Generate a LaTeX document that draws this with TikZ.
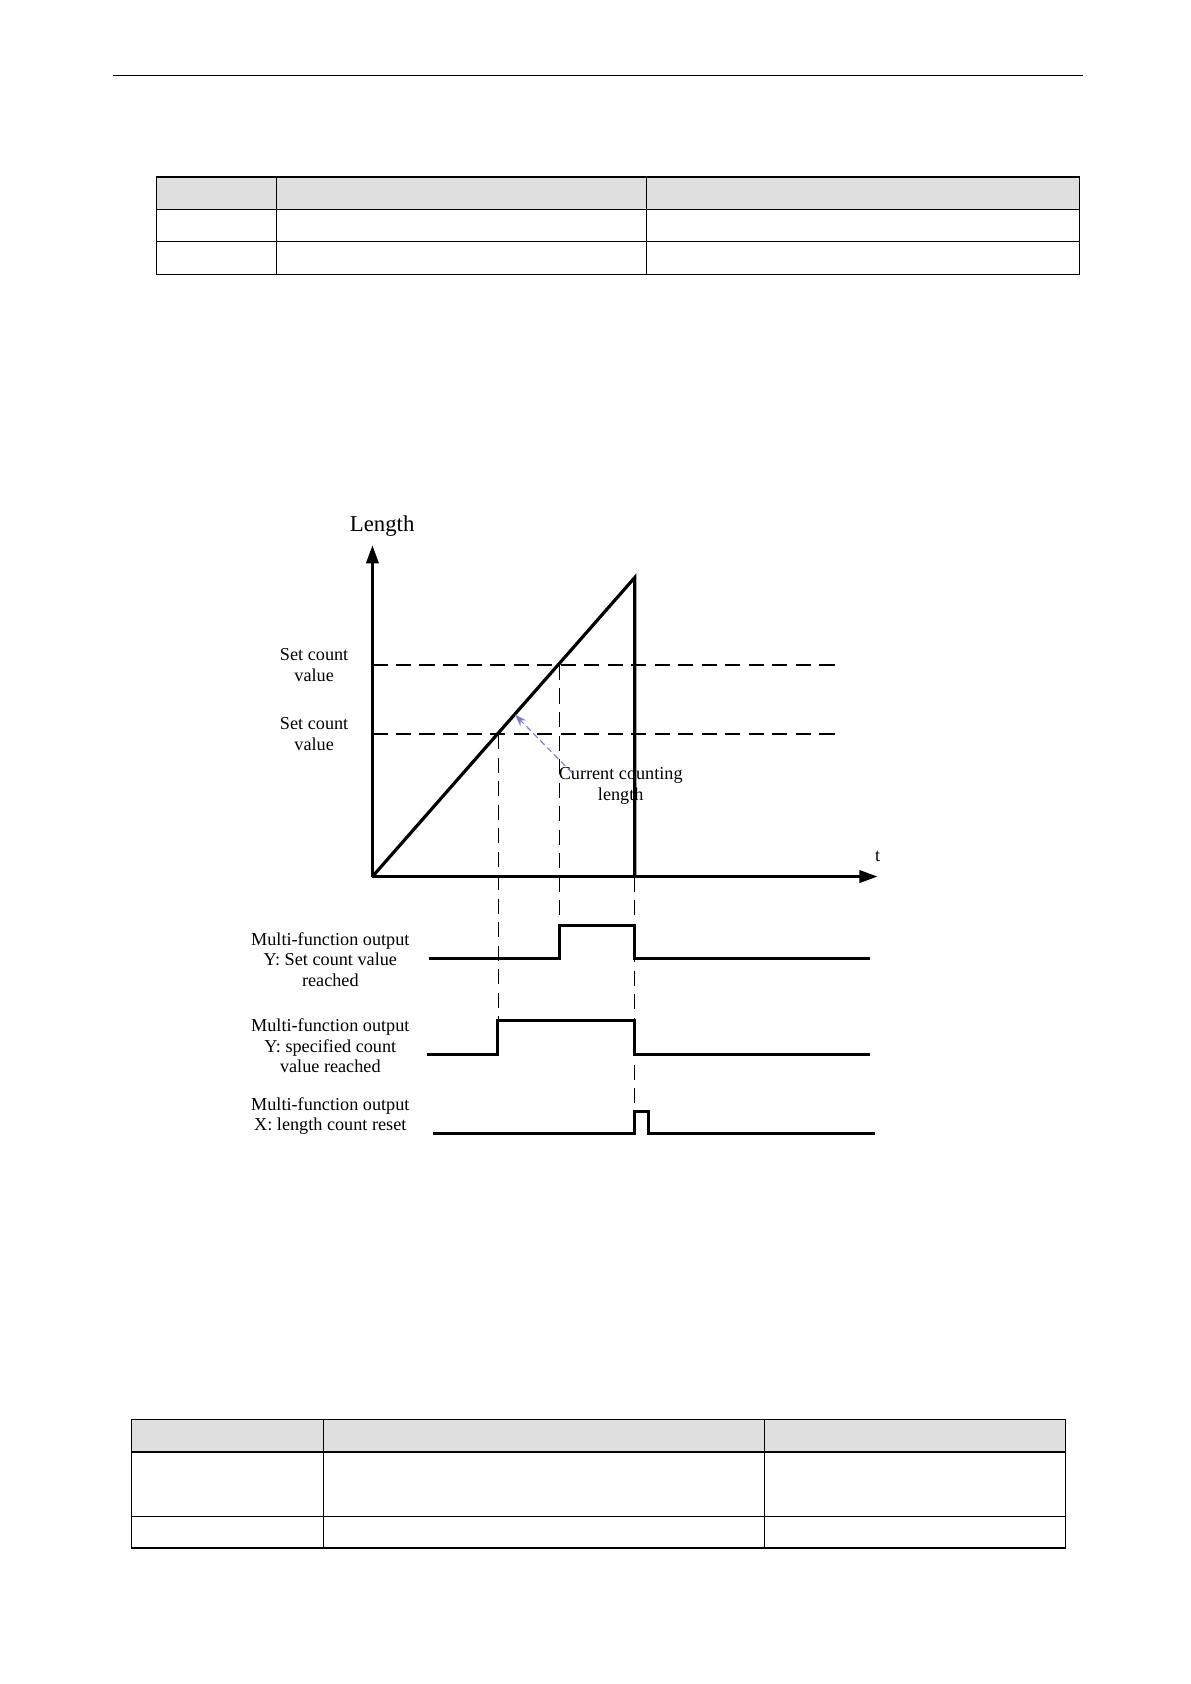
\documentclass[tikz,border=0pt]{standalone}
\usepackage{fontspec}
\setmainfont{Liberation Serif}
\usetikzlibrary{arrows.meta}
\begin{document}
\begin{tikzpicture}[x=0.05cm,y=-0.05cm,
  thin line/.style={line width=1.6pt},
  thick line/.style={line width=4.2pt},
  sig/.style={line width=3.8pt},
  dash line/.style={line width=1.6pt,dash pattern=on 20pt off 11pt},
  lab/.style={font=\fontsize{24}{27}\selectfont,align=center,inner sep=0pt},
  hdr/.style={fill=gray!25}]
\useasboundingbox (0,0) rectangle (1103,1560);
% header line
\draw[thin line] (105,70) -- (1003,70);
% top table
\fill[hdr] (145,164) rectangle (1000,194);
\draw[thin line] (145,164) rectangle (1000,254);
\draw[thin line] (145,194) -- (1000,194) (145,224) -- (1000,224);
\draw[thin line] (256,164) -- (256,254) (599,164) -- (599,254);
% bottom table
\fill[hdr] (122,1315) rectangle (987,1345);
\draw[thin line] (122,1315) rectangle (987,1434);
\draw[thin line] (122,1345) -- (987,1345) (122,1405) -- (987,1405);
\draw[thin line] (300,1315) -- (300,1434) (708,1315) -- (708,1434);
% axes
\coordinate (O) at (345,812);
\coordinate (Ytop) at (345,505);
\coordinate (Xend) at (813,812);
\coordinate (P) at (588,535);
\coordinate (Pb) at (588,812);
\draw[thick line,-{Triangle[length=24pt,width=16pt]}] (O) -- (Ytop);
\draw[thick line,-{Triangle[length=24pt,width=16pt]}] (O) -- (Xend);
\draw[thick line] (O) -- (P) -- (Pb);
\node[lab,font=\fontsize{30}{32}\selectfont] (len) at (354,487) {Length};
\node[lab] (t) at (813,793) {t};
% dashed levels
\draw[dash line] (345,616) -- (775,616);
\draw[dash line] (345,680) -- (775,680);
\draw[dash line] (462,680) -- (462,945);
\draw[dash line] (518,616) -- (518,857);
\draw[dash line] (588,812) -- (588,1030);
\node[lab] (s1) at (291,616) {Set count\\value};
\node[lab] (s2) at (291,680) {Set count\\value};
\node[lab] (cur) at (575,728) {Current counting\\length};
\coordinate (arrS) at (530,716);
\coordinate (arrE) at (477,662);
\draw[line width=1.5pt,color=blue!45!gray!70,dash pattern=on 8pt off 5pt,-{Stealth[length=16pt,width=11pt]}] (arrS) -- (arrE);
% signals
\draw[sig] (397,888) -- (518,888) -- (518,857) -- (588,857) -- (588,888) -- (806,888);
\draw[sig] (396,977) -- (461,977) -- (461,945) -- (588,945) -- (588,977) -- (806,977);
\draw[sig] (401,1050) -- (588,1050) -- (588,1030) -- (601,1030) -- (601,1050) -- (811,1050);
\node[lab] (l1) at (306,889) {Multi-function output\\Y: Set count value\\reached};
\node[lab] (l2) at (306,969) {Multi-function output\\Y: specified count\\value reached};
\node[lab] (l3) at (306,1034) {Multi-function output\\X: length count reset};
\end{tikzpicture}
\end{document}
